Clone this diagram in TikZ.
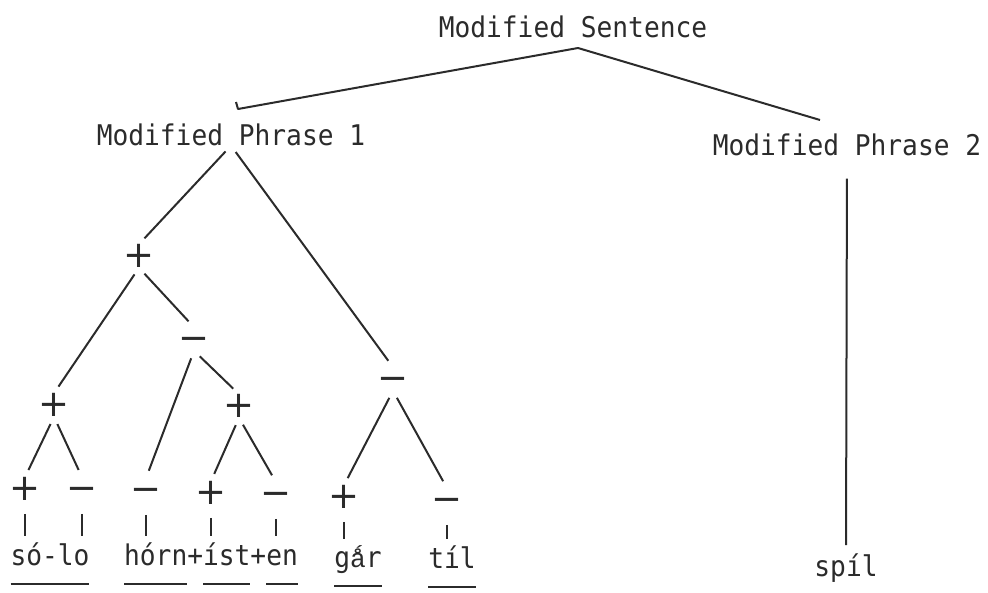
\documentclass[tikz,border=0pt]{standalone}
\usepackage{fontspec}
\usepackage{xcolor}
\definecolor{Ink}{HTML}{2B2B2B}
\newfontfamily\typewriter[FakeStretch=0.92]{DejaVu Sans Mono}
\newfontfamily\typewriteralt{Liberation Mono}
\newfontfamily\signfont{DejaVu Sans}
\usetikzlibrary{calc}

% underline one morpheme, rule well below the baseline
\newcommand{\morph}[1]{\setbox0\hbox{#1}\rlap{\rule[-20pt]{\wd0}{1.6pt}}\box0}
\newcommand{\minussign}{−\vphantom{+}}
% a with ring and acute, same cell width as the main face
\newcommand{\aring}{{\typewriteralt\fontsize{26.3}{30}\selectfont ǻ}}

\tikzset{
  word/.style={font=\typewriter\fontsize{28.5}{30}\selectfont, text=Ink, inner sep=0pt, anchor=base},
  sign/.style={font=\signfont\fontsize{37}{40}\selectfont, text=Ink, inner sep=0pt},
  branch/.style={draw=Ink, line width=2pt, shorten <=8pt, shorten >=8pt},
  tick/.style={draw=Ink, line width=2pt, shorten <=13pt, shorten >=6pt},
}

\begin{document}
\begin{tikzpicture}[x=1pt,y=-1pt]
  \useasboundingbox (0,0) rectangle (988,592);

  % sentence and phrases
  \node[word] (sent) at (573,37) {Modified Sentence};
  \node[word] (p1) at (231,145) {Modified Phrase 1};
  \node[word] (p2) at (847,155) {Modified Phrase 2};

  \coordinate (apex) at (578,48);
  \coordinate (p1end) at (238,109);
  \coordinate (p2end) at (820,120);
  \draw[Ink, line width=2pt, line join=round] (p1end) ++(-2,-7) -- (p1end) -- (apex) -- (p2end);

  % stress signs of phrase 1
  \node[sign] (s1) at (139,256) {+};
  \node[sign] (s2) at (194,339) {\minussign};
  \node[sign] (s3) at (393,379) {\minussign};
  \node[sign] (s4) at (54,405) {+};
  \node[sign] (s5) at (239,406) {+};
  \node[sign] (l1) at (25,489) {+};
  \node[sign] (l2) at (82,489) {\minussign};
  \node[sign] (l3) at (146,490) {\minussign};
  \node[sign] (l4) at (211,493) {+};
  \node[sign] (l5) at (276,494) {\minussign};
  \node[sign] (l6) at (344,497) {+};
  \node[sign] (l7) at (447,500) {\minussign};

  % words
  \node[word] (w1) at (50,565) {\morph{só-lo}};
  \node[word] (w2) at (211,565) {\morph{hórn}+\morph{íst}+\morph{en}};
  \node[word] (w3) at (358,567) {\morph{g\aring r}};
  \node[word] (w4) at (452,568) {\morph{tíl}};
  \node[word] (w5) at (846,576) {spíl};

  % branches
  \draw[branch] (p1.south) -- (s1.north);
  \draw[branch] (p1.south) -- (s3.north);
  \draw[branch] (s1.south) -- (s4.north);
  \draw[branch] (s1.south) -- (s2.north);
  \draw[branch] (s2.south) -- (l3.north);
  \draw[branch] (s2.south) -- (s5.north);
  \draw[branch] (s4.south) -- (l1.north);
  \draw[branch] (s4.south) -- (l2.north);
  \draw[branch] (s5.south) -- (l4.north);
  \draw[branch] (s5.south) -- (l5.north);
  \draw[branch] (s3.south) -- (l6.north);
  \draw[branch] (s3.south) -- (l7.north);
  \draw[branch, shorten <=23pt] (p2.south) -- (w5.north);

  \foreach \s/\w in {l1/w1, l2/w1, l3/w2, l4/w2, l5/w2, l6/w3, l7/w4}
    \draw[tick] (\s.south) -- (\s.south |- \w.north);
\end{tikzpicture}
\end{document}
